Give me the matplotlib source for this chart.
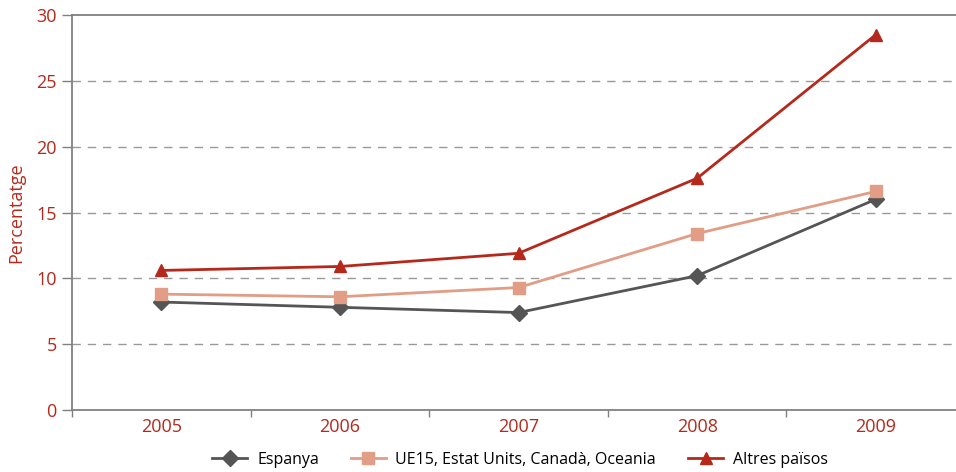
import matplotlib
matplotlib.use("Agg")
import matplotlib.pyplot as plt
from matplotlib.ticker import FixedLocator

plt.rcParams["font.family"] = ["Open Sans", "DejaVu Sans"]

years = ["2005", "2006", "2007", "2008", "2009"]
espanya = [8.2, 7.8, 7.4, 10.2, 16.0]
ue15 = [8.8, 8.6, 9.3, 13.4, 16.6]
altres = [10.6, 10.9, 11.9, 17.6, 28.5]
series_names = ["Espanya", "UE15, Estat Units, Canadà, Oceania", "Altres països"]

red = "#b5291c"
salmon = "#e19d85"
dark = "#555555"
axis_gray = "#808080"

fig = plt.figure(figsize=(9.56, 4.72), dpi=100)
ax = fig.add_axes([72 / 956, 1 - 410 / 472, (965 - 72) / 956, (410 - 15) / 472])

x = list(range(len(years)))
ax.plot(x, espanya, color=dark, lw=2, marker="D", ms=8, label=series_names[0])
ax.plot(x, ue15, color=salmon, lw=2, marker="s", ms=8, label=series_names[1])
ax.plot(x, altres, color=red, lw=2, marker="^", ms=9, label=series_names[2])

ax.set_xlim(-0.5, len(years) - 0.5)
ax.set_ylim(0, 30)
ax.set_yticks([0, 5, 10, 15, 20, 25, 30])
ax.set_xticks(x)
ax.set_xticklabels(years)
ax.xaxis.set_minor_locator(FixedLocator([i - 0.5 for i in range(len(years) + 1)]))
ax.tick_params(axis="x", which="major", length=0, pad=6, labelsize=13, labelcolor=red)
ax.tick_params(axis="x", which="minor", length=5, color=axis_gray, width=1)
ax.tick_params(axis="y", length=7, color=axis_gray, width=1, pad=4, labelsize=13, labelcolor=red)

for v in [5, 10, 15, 20, 25]:
    ax.axhline(v, color="#999999", lw=1, ls=(0, (6, 5)), zorder=0)

for side in ["left", "bottom", "top"]:
    ax.spines[side].set_color(axis_gray)
    ax.spines[side].set_linewidth(1.3)
ax.spines["right"].set_visible(False)

ax.set_ylabel("Percentatge", color=red, fontsize=13, labelpad=8)

fig.legend(loc="lower center", bbox_to_anchor=(0.544, -0.022), ncol=3, frameon=False,
           fontsize=11.5, handlelength=2.2, handletextpad=0.6, columnspacing=2.0)

fig.savefig("out.png", dpi=100)
